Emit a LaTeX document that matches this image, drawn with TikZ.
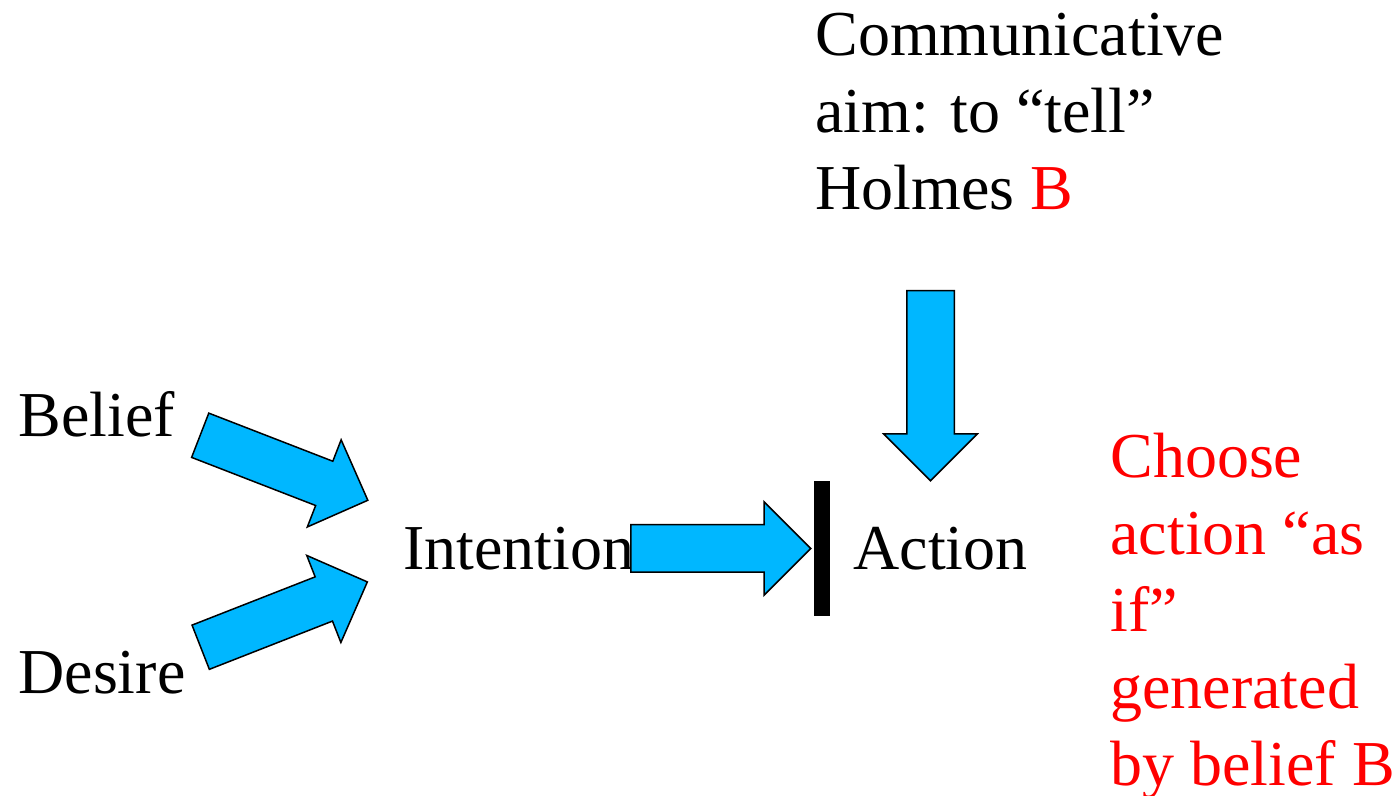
\documentclass[tikz,border=0pt]{standalone}
\usepackage{fontspec}
\setmainfont{Liberation Serif}
\usepackage{tikz}
\usetikzlibrary{shapes.arrows, positioning}
\definecolor{arrowblue}{RGB}{0,183,255}

\begin{document}
\begin{tikzpicture}[
    x=0.5pt, y=-0.5pt,
    font=\fontsize{32}{38.5}\selectfont,
    word/.style={anchor=base west, inner sep=0pt, align=left},
    fat/.style={single arrow, draw=black, fill=arrowblue, line width=0.75pt,
        inner sep=0pt, inner ysep=11.5pt, single arrow head extend=11.5pt,
        single arrow tip angle=90, anchor=tail, minimum height=#1},
]
    \useasboundingbox (0,0) rectangle (1399,796);

    % Mental states
    \node[word] (belief) at (18,437) {Belief};
    \node[word] (desire) at (18,694) {Desire};
    \node[word] (intention) at (403,570) {Intention};

    % Action with its bar
    \node[fill=black, inner sep=0pt, minimum width=8pt, minimum height=67.5pt] (bar) at (822,548.5) {};
    \node[word] (action) at (853,570) {Action};

    % Communicative aim (base = last line)
    \node[word] (aim) at (815,210) {Communicative\\aim: to “tell”\\Holmes \textcolor{red}{B}};

    % Choice
    \node[word, text=red] (choose) at (1110,785) {Choose\\action “as\\if”\\generated\\by belief B};

    % Fat arrows
    \node[fat=89.9pt, rotate=-21.2] (beliefarrow) at (199.5,435) {};
    \node[fat=89.5pt, rotate=21.4] (desirearrow) at (200,647.5) {};
    \node[fat=90pt] (intentionarrow) at (630,548.5) {};
    \node[fat=95pt, rotate=-90] (aimarrow) at (930.5,290) {};

\end{tikzpicture}
\end{document}
